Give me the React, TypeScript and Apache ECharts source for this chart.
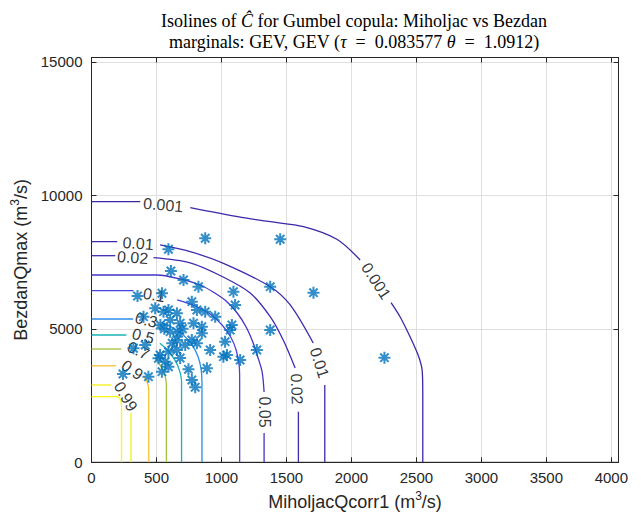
import React, { useEffect, useRef } from 'react';
import * as echarts from 'echarts';

// ---- axis setup ----
const X_MAX = 4055;
const Y_MAX = 15160;
const X_TICK = 500;
const Y_TICK = 5000;

// ---- contour levels (labels and colours) ----
const LEVELS = ['0.001', '0.01', '0.02', '0.05', '0.1', '0.3', '0.5', '0.7', '0.9', '0.99', '0.999'];
const LEVEL_COLORS = ['#3e26a8', '#3f28ad', '#402ab3', '#4332c6', '#4743e0', '#2d8de6', '#19b2b6', '#a0c43a', '#f8c130', '#f4ee14', '#f9fa0e'];

// ---- isoline segments, gaps where labels sit ----
const iso_0_001 = [
  [[0, 9760], [375, 9760]],
  [[760, 9536], [1145, 9180], [1375, 9011], [1631, 8824], [1888, 8352], [2067, 7577]],
  [[2305, 5978], [2375, 5442], [2452, 4693], [2513, 4019], [2544, 3457], [2549, 2600], [2549, 0]],
];
const iso_0_01 = [
  [[0, 8262], [198, 8262]],
  [[528, 8139], [759, 7888], [1015, 7453], [1375, 6577], [1529, 5895], [1706, 4469]],
  [[1795, 2895], [1795, 0]],
];
const iso_0_02 = [
  [[0, 7738], [183, 7738]],
  [[477, 7663], [759, 7468], [1013, 6940], [1221, 6341], [1375, 5453], [1475, 4580], [1567, 3532]],
  [[1592, 1895], [1592, 0]],
];
const iso_0_05 = [
  [[0, 7015], [505, 7015], [682, 6865], [836, 6640], [936, 6378], [1036, 6041], [1121, 5592], [1190, 5067], [1244, 4468], [1282, 3906], [1313, 3382], [1328, 2633]],
  [[1328, 1097], [1328, 0]],
];
const iso_0_1 = [
  [[0, 6427], [323, 6427]],
  [[659, 6079], [798, 5854], [913, 5554], [1005, 5142], [1075, 4655], [1113, 4206], [1136, 3644], [1140, 3082], [1140, 0]],
];
const iso_0_3 = [
  [[0, 5367], [321, 5367]],
  [[540, 5230], [640, 5000], [720, 4700], [780, 4350], [820, 3950], [843, 3500], [850, 3000], [850, 0]],
];
const iso_0_5 = [
  [[0, 4768], [268, 4768]],
  [[526, 4457], [575, 4250], [615, 4019], [645, 3800], [667, 3580], [685, 3300], [693, 3000], [693, 0]],
];
const iso_0_7 = [
  [[0, 4243], [229, 4243]],
  [[490, 3906], [528, 3640], [552, 3420], [567, 3206], [576, 2900], [576, 0]],
];
const iso_0_9 = [
  [[0, 3614], [190, 3614]],
  [[405, 3200], [428, 3000], [440, 2750], [441, 0]],
];
const iso_0_99 = [
  [[0, 2895], [152, 2895]],
  [[304, 1846], [304, 0]],
];
const iso_0_999 = [
  [[0, 2457], [192, 2457], [212, 2420], [224, 2330], [230, 2180], [231, 2000], [231, 0]],
];
const ISOLINES = [iso_0_001, iso_0_01, iso_0_02, iso_0_05, iso_0_1, iso_0_3, iso_0_5, iso_0_7, iso_0_9, iso_0_99, iso_0_999];

// contour label: [text, x, y, angle]
const CONTOUR_LABELS: [string, number, number, number][] = [
  ['0.001', 552, 9637, -5],
  ['0.001', 2190, 6790, -57],
  ['0.01', 359, 8195, -4],
  ['0.01', 1754, 3727, -72],
  ['0.02', 317, 7670, -4],
  ['0.02', 1579, 2745, -88],
  ['0.05', 1328, 1884, -90],
  ['0.1', 482, 6266, -10],
  ['0.3', 421, 5330, -15],
  ['0.5', 398, 4730, -15],
  ['0.7', 360, 4187, -25],
  ['0.9', 314, 3457, -35],
  ['0.99', 263, 2464, -60],
];

// ---- observations (Miholjac Qcorr1, Bezdan Qmax) ----
const obsX = [875, 1452, 592, 611, 708, 823, 1092, 1375, 1708, 354, 542, 1105, 772, 490, 554, 592, 657, 811, 875, 952,
  400, 605, 682, 785, 849, 1080, 1067, 1375, 605, 669, 657, 772, 849, 811, 1028, 323, 413, 592, 528, 657,
  913, 1042, 1015, 1144, 1272, 567, 515, 592, 542, 746, 888, 772, 798, 438, 242, 2254, 530, 721, 621, 682, 560, 700];
const obsY = [8390, 8352, 7978, 7165, 6828, 6577, 6390, 6577, 6352, 6228, 6330, 5891, 6015, 5768, 5640, 5704, 5581, 5704, 5640, 5453,
  5453, 5330, 5206, 5206, 5079, 5142, 4955, 4955, 4891, 4831, 4581, 4581, 4831, 4457, 4517, 4270, 4393, 4142, 4019, 4206,
  4206, 4019, 3955, 3831, 4206, 3768, 3895, 3580, 3393, 3483, 3521, 3082, 2809, 3206, 3307, 3918, 5142, 4393, 4457, 3906, 5000, 5000];

const STAR = 'path://M0 8.3H20V11.7H0Z M8.3 0H11.7V20H8.3Z M4.2 1.8L18.2 15.8L15.8 18.2L1.8 4.2Z M15.8 1.8L18.2 4.2L4.2 18.2L1.8 15.8Z';

const AXIS_COLOR = '#262626';
const FONT = 'Liberation Sans';

export default function App() {
  const ref = useRef<HTMLDivElement>(null);
  useEffect(() => {
    if (!ref.current) return;
    const chart = echarts.init(ref.current, undefined, { renderer: 'svg' });

    const lineSeries: any[] = [];
    ISOLINES.forEach((segs, i) => {
      segs.forEach((seg) => {
        lineSeries.push({
          type: 'line',
          data: seg,
          symbol: 'none',
          showSymbol: false,
          silent: true,
          smooth: seg.length > 3 ? 0.3 : false,
          z: 3,
          lineStyle: { color: LEVEL_COLORS[i], width: 1.3 },
        });
      });
    });

    const axisLabelFmt = (step: number) => (v: number) => (Math.abs(v % step) < 1e-6 ? String(v) : '');

    const nameRich = {
      n: { fontSize: 18, color: AXIS_COLOR, fontFamily: FONT, lineHeight: 24 },
      sup: { fontSize: 12, color: AXIS_COLOR, fontFamily: FONT, verticalAlign: 'top', lineHeight: 13 },
    };

    const option: any = {
      animation: false,
      backgroundColor: '#ffffff',
      grid: {
        left: 91.5, right: 22.5, top: 57.5, bottom: 55.7,
        show: true, borderColor: AXIS_COLOR, borderWidth: 1, backgroundColor: '#ffffff',
      },
      xAxis: [
        {
          type: 'value', min: 0, max: X_MAX, interval: X_TICK, position: 'bottom',
          axisLine: { show: true, onZero: false, lineStyle: { color: AXIS_COLOR, width: 1 } },
          axisTick: { show: true, inside: true, length: 5, lineStyle: { color: AXIS_COLOR } },
          axisLabel: { color: AXIS_COLOR, fontSize: 15, fontFamily: FONT, margin: 8, formatter: axisLabelFmt(X_TICK) },
          splitLine: { show: true, lineStyle: { color: '#dfdfdf', width: 1 } },
          name: '{n|MiholjacQcorr1 (m}{sup|3}{n|/s)}',
          nameLocation: 'middle', nameGap: 22,
          nameTextStyle: { rich: nameRich },
        },
        {
          type: 'value', min: 0, max: X_MAX, interval: X_TICK, position: 'top',
          axisLine: { show: true, onZero: false, lineStyle: { color: AXIS_COLOR, width: 1 } },
          axisTick: { show: true, inside: true, length: 5, lineStyle: { color: AXIS_COLOR } },
          axisLabel: { show: false },
          splitLine: { show: false },
        },
      ],
      yAxis: [
        {
          type: 'value', min: 0, max: Y_MAX, interval: Y_TICK, position: 'left',
          axisLine: { show: true, onZero: false, lineStyle: { color: AXIS_COLOR, width: 1 } },
          axisTick: { show: true, inside: true, length: 5, lineStyle: { color: AXIS_COLOR } },
          axisLabel: { color: AXIS_COLOR, fontSize: 15, fontFamily: FONT, margin: 9, formatter: axisLabelFmt(Y_TICK) },
          splitLine: { show: true, lineStyle: { color: '#dfdfdf', width: 1 } },
          name: '{n|BezdanQmax (m}{sup|3}{n|/s)}',
          nameLocation: 'middle', nameGap: 54, nameRotate: 90,
          nameTextStyle: { rich: nameRich },
        },
        {
          type: 'value', min: 0, max: Y_MAX, interval: Y_TICK, position: 'right',
          axisLine: { show: true, onZero: false, lineStyle: { color: AXIS_COLOR, width: 1 } },
          axisTick: { show: true, inside: true, length: 5, lineStyle: { color: AXIS_COLOR } },
          axisLabel: { show: false },
          splitLine: { show: false },
        },
      ],
      graphic: [
        {
          type: 'text', x: 354, y: 21,
          style: {
            text: '{r|Isolines of }{i|Ĉ}{r| for Gumbel copula: Miholjac vs Bezdan}',
            align: 'center', verticalAlign: 'middle',
            rich: {
              r: { fontFamily: 'Liberation Serif', fontSize: 18, fill: '#000' },
              i: { fontFamily: 'Liberation Serif', fontSize: 18, fontStyle: 'italic', fill: '#000' },
            },
          },
        },
        {
          type: 'text', x: 354, y: 42,
          style: {
            text: '{r|marginals: GEV, GEV (}{i|τ}{r|  =  0.083577 }{i|θ}{r|  =  1.0912)}',
            align: 'center', verticalAlign: 'middle',
            rich: {
              r: { fontFamily: 'Liberation Serif', fontSize: 18, fill: '#000' },
              i: { fontFamily: 'Liberation Serif', fontSize: 18, fontStyle: 'italic', fill: '#000' },
            },
          },
        },
      ],
      series: [
        ...lineSeries,
        {
          type: 'scatter',
          symbol: 'circle',
          symbolSize: 1,
          silent: true,
          z: 4,
          itemStyle: { color: 'rgba(0,0,0,0)' },
          label: { show: true, position: 'inside', formatter: '{b}', color: '#000', fontSize: 16, fontFamily: FONT },
          data: CONTOUR_LABELS.map(([t, x, y, a]) => ({ name: t, value: [x, y], label: { rotate: a } })),
        },
        {
          type: 'scatter',
          symbol: STAR,
          symbolSize: 12,
          silent: true,
          z: 5,
          itemStyle: { color: '#0072bd' },
          data: obsX.map((x, i) => [x, obsY[i]]),
        },
      ],
    };
    chart.setOption(option);
    return () => chart.dispose();
  }, []);
  return <div ref={ref} style={{ position: 'absolute', left: 0, top: 0, width: 641, height: 518 }} />;
}
